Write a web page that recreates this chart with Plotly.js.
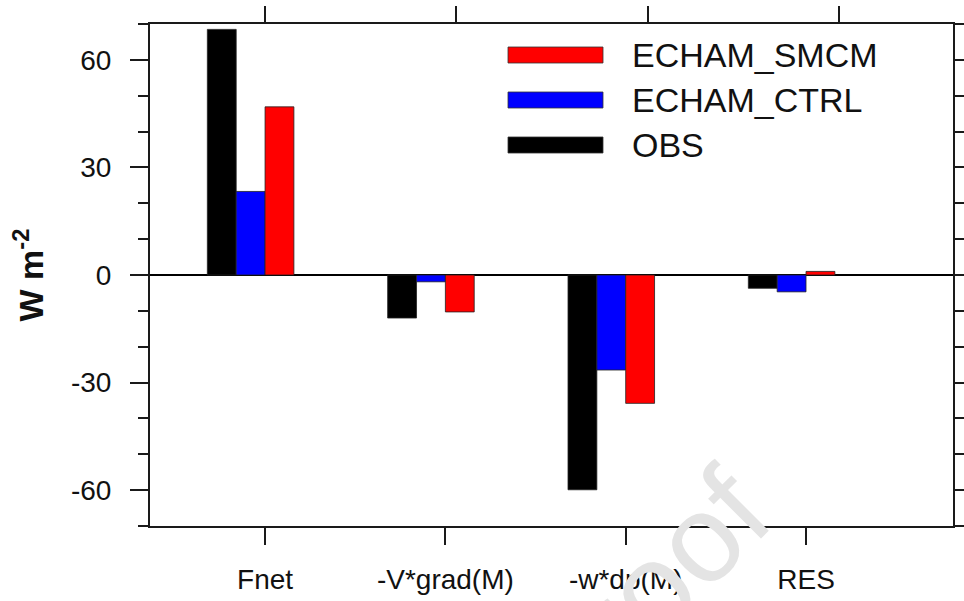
<!DOCTYPE html>
<html>
<head>
<meta charset="utf-8">
<script src="https://cdn.plot.ly/plotly-3.0.1.min.js"></script>
<style>html,body{margin:0;padding:0;background:#fff;}#chart{width:964px;height:601px;}</style>
</head>
<body>
<div id="chart"></div>
<script>
// ---- data ----
const categories = ['Fnet', '-V*grad(M)', '-w*dp(M)', 'RES'];
const seriesNames = ['OBS', 'ECHAM_CTRL', 'ECHAM_SMCM'];
const obs  = [68.5, -12.0, -59.9, -3.7];
const ctrl = [23.3,  -1.9, -26.5, -4.7];
const smcm = [46.9, -10.3, -35.8,  1.0];
const yTickVals = [-60, -30, 0, 30, 60];
const yTickText = ['-60', '-30', '0', '30', '60'];
const legendOrder = ['ECHAM_SMCM', 'ECHAM_CTRL', 'OBS'];

// ---- styles ----
const colors = {'OBS': '#000000', 'ECHAM_CTRL': '#0000ff', 'ECHAM_SMCM': '#ff0000'};
const offsets = {'OBS': -0.32, 'ECHAM_CTRL': -0.16, 'ECHAM_SMCM': 0};
const values = {'OBS': obs, 'ECHAM_CTRL': ctrl, 'ECHAM_SMCM': smcm};
const FONT = 'Liberation Sans, Arial, Helvetica, sans-serif';
const AX = '#1a1a1a';

const traces = seriesNames.map(n => ({
  type: 'bar', name: n, x: categories, y: values[n],
  width: 0.16, offset: offsets[n],
  marker: {color: colors[n], line: {color: '#222', width: 0.8}},
  showlegend: false, hoverinfo: 'skip'
}));
// invisible helper so the top axis is drawn
traces.push({type: 'scatter', mode: 'markers', x: [1], y: [0], xaxis: 'x2', yaxis: 'y',
  marker: {opacity: 0}, showlegend: false, hoverinfo: 'skip'});

// legend drawn manually (long swatches)
const shapes = [];
const annotations = [];
const legX0 = (508 - 150) / 803, legX1 = (603 - 150) / 803, legTX = (630 - 150) / 803;
const legY = [55, 100, 145];
legendOrder.forEach((n, i) => {
  const yc = (526 - legY[i]) / 502;
  const h = 8 / 502;
  shapes.push({type: 'rect', xref: 'paper', yref: 'paper', x0: legX0, x1: legX1, y0: yc - h, y1: yc + h,
    fillcolor: colors[n], line: {color: '#333', width: 0.8}});
  annotations.push({xref: 'paper', yref: 'paper', x: legTX, y: yc, xanchor: 'left', yanchor: 'middle',
    text: n, showarrow: false, font: {family: FONT, size: 34, color: '#111'}});
});
// watermark
annotations.push({xref: 'paper', yref: 'paper', x: 0.62, y: -0.13, xanchor: 'center', yanchor: 'middle',
  text: 'proof', textangle: -45, showarrow: false, font: {family: FONT, size: 124, color: '#e4e4e4'}});

const layout = {
  width: 964, height: 601,
  margin: {l: 150, r: 11, t: 24, b: 75},
  paper_bgcolor: '#fff', plot_bgcolor: '#fff',
  barmode: 'overlay',
  font: {family: FONT, color: '#111'},
  xaxis: {
    type: 'category', range: [-0.638, 3.815],
    showline: true, linecolor: AX, linewidth: 2, mirror: true,
    ticks: 'outside', ticklen: 17, tickwidth: 2, tickcolor: AX,
    showgrid: false, zeroline: false,
    tickfont: {family: FONT, size: 28, color: '#111'},
    ticklabelstandoff: 10
  },
  xaxis2: {
    overlaying: 'x', side: 'top', anchor: 'y', range: [0.399, 4.596],
    tickvals: [1, 2, 3, 4], showticklabels: false,
    ticks: 'outside', ticklen: 17, tickwidth: 2, tickcolor: AX,
    showgrid: false, zeroline: false, showline: false
  },
  yaxis: {
    range: [-70, 70], tickvals: yTickVals, ticktext: yTickText,
    showline: true, linecolor: AX, linewidth: 2, mirror: 'ticks',
    ticks: 'outside', ticklen: 18, tickwidth: 2, tickcolor: AX,
    minor: {dtick: 10, tick0: 0, ticks: 'outside', ticklen: 10, tickwidth: 2, tickcolor: AX, showgrid: false},
    showgrid: false,
    zeroline: true, zerolinecolor: '#000', zerolinewidth: 1.5,
    tickfont: {family: FONT, size: 28, color: '#111'},
    ticklabelstandoff: 13,
    title: {text: '<b>W m<sup>-2</sup></b>', font: {family: FONT, size: 34, color: '#111'}, standoff: 17}
  },
  shapes: shapes,
  annotations: annotations
};

Plotly.newPlot('chart', traces, layout, {displayModeBar: false, staticPlot: true});
</script>
</body>
</html>
